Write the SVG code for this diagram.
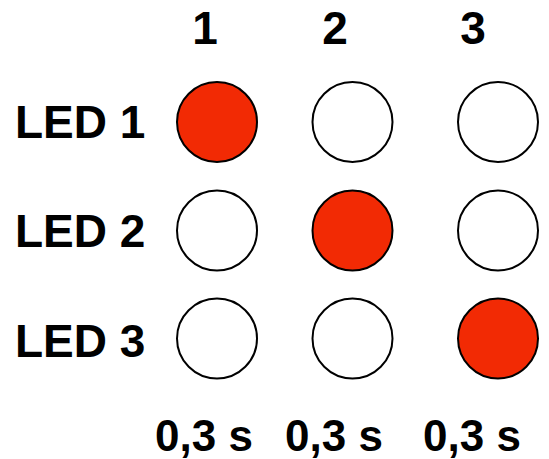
<svg xmlns="http://www.w3.org/2000/svg" width="549" height="459" viewBox="0 0 549 459">
<style>
text{font-family:"Liberation Sans",Arial,Helvetica,sans-serif;font-weight:bold;fill:#000}
.lbl{font-size:46px}
.time{font-size:44px}
.off{fill:#fff;stroke:#000;stroke-width:2}
.on{fill:#F22A04;stroke:#000;stroke-width:2}
</style>
<rect width="549" height="459" fill="#fff"/>
<g id="col-headers" class="lbl" text-anchor="middle">
<text x="205" y="44">1</text>
<text x="335" y="44">2</text>
<text x="473" y="44">3</text>
</g>
<g id="row-labels" class="lbl">
<text x="15" y="138">LED 1</text>
<text x="15" y="247">LED 2</text>
<text x="15" y="357">LED 3</text>
</g>
<g id="led1">
<circle class="on" cx="217" cy="122" r="40"/>
<circle class="off" cx="352.5" cy="122" r="40"/>
<circle class="off" cx="498" cy="122" r="40"/>
</g>
<g id="led2">
<circle class="off" cx="217" cy="230.5" r="40"/>
<circle class="on" cx="352.5" cy="230.5" r="40"/>
<circle class="off" cx="498" cy="230.5" r="40"/>
</g>
<g id="led3">
<circle class="off" cx="217" cy="338.5" r="40"/>
<circle class="off" cx="352.5" cy="338.5" r="40"/>
<circle class="on" cx="498" cy="338.5" r="40"/>
</g>
<g id="times" class="time">
<text x="155" y="451">0,3 s</text>
<text x="285" y="451">0,3 s</text>
<text x="423" y="451">0,3 s</text>
</g>
</svg>
